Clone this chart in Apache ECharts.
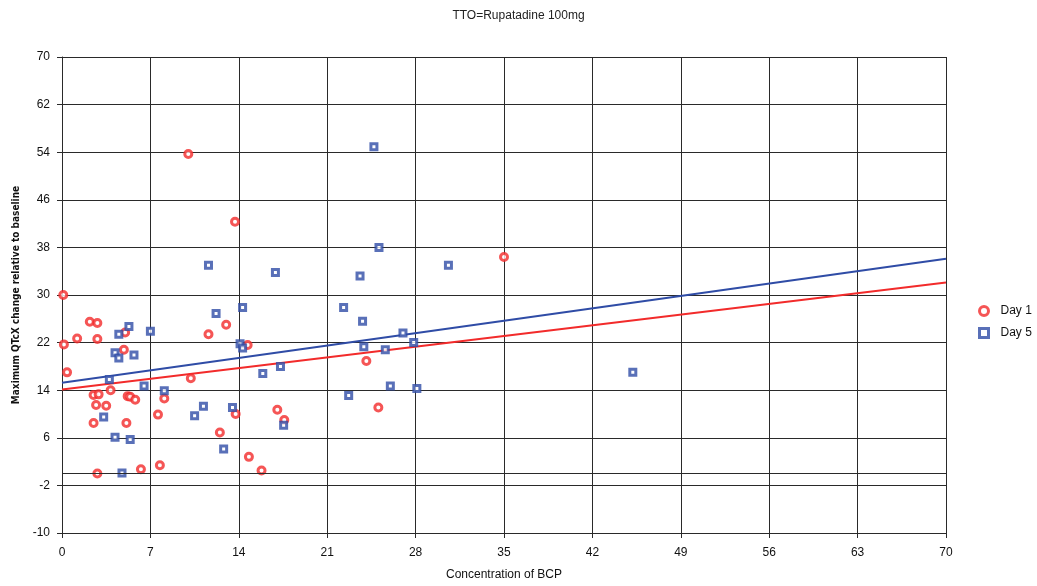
<!DOCTYPE html>
<html>
<head>
<meta charset="utf-8">
<title>TTO=Rupatadine 100mg</title>
<script src="https://cdn.jsdelivr.net/npm/echarts@6/dist/echarts.min.js"></script>
<style>
  html, body { margin: 0; padding: 0; background: #fff; }
  #chart { width: 1037px; height: 586px; }
</style>
</head>
<body>
<div id="chart"></div>
<script>
// values
const xTicks = [0, 7, 14, 21, 28, 35, 42, 49, 56, 63, 70];
const yTicks = [-10, -2, 6, 14, 22, 30, 38, 46, 54, 62, 70];

const day1 = [
  [0.1, 30], [0.15, 21.7], [0.4, 17], [1.2, 22.7], [2.2, 25.5], [2.8, 25.3],
  [2.8, 22.6], [5.0, 23.7], [4.9, 20.8], [3.85, 14], [2.5, 13.2], [2.9, 13.3],
  [2.7, 11.5], [3.5, 11.4], [2.5, 8.5], [5.2, 13], [5.4, 12.9], [5.8, 12.4],
  [5.1, 8.5], [2.8, 0], [6.25, 0.7], [7.75, 1.4], [8.1, 12.6], [7.6, 9.9],
  [10.2, 16], [11.6, 23.4], [13.0, 25], [12.5, 6.9], [13.75, 10], [14.7, 21.6],
  [14.8, 2.8], [10.0, 53.7], [13.7, 42.3], [17.05, 10.7], [17.6, 9], [15.8, 0.5],
  [24.1, 18.9], [25.05, 11.1], [35.0, 36.4]
];

const day5 = [
  [5.3, 24.7], [4.5, 23.4], [7.0, 23.9], [12.2, 26.9], [14.3, 27.9], [4.2, 20.3],
  [4.5, 19.4], [5.7, 19.9], [14.1, 21.8], [14.3, 21.1], [3.75, 15.8], [6.5, 14.7],
  [8.1, 13.9], [3.3, 9.5], [4.2, 6.1], [5.4, 5.7], [4.75, 0.1], [10.5, 9.7],
  [11.2, 11.3], [13.5, 11.1], [12.8, 4.1], [24.7, 54.9], [25.1, 38], [11.6, 35],
  [16.9, 33.8], [23.6, 33.2], [30.6, 35], [22.3, 27.9], [23.8, 25.6], [27.0, 23.6],
  [23.9, 21.3], [25.6, 20.8], [27.85, 22], [17.3, 18], [15.9, 16.8], [26.0, 14.7],
  [28.1, 14.3], [22.7, 13.1], [17.55, 8.1], [45.2, 17.0]
];

// fitted trend lines (end points)
const trendDay1 = [[0, 14.1], [70, 32.1]];
const trendDay5 = [[0, 15.25], [70, 36.1]];

const RED = '#f22b2b';
const BLUE = '#2f4ca6';
const GRID_LINE = { lineStyle: { color: '#2a2a2a', width: 1 } };
const LABEL = { color: '#111', fontFamily: 'Liberation Sans', fontSize: 12 };

const chart = echarts.init(document.getElementById('chart'));

chart.setOption({
  animation: false,
  title: {
    text: 'TTO=Rupatadine 100mg',
    left: 'center',
    top: 5,
    textStyle: { color: '#222', fontFamily: 'Liberation Sans', fontSize: 12, fontWeight: 'normal' },
  },
  grid: { left: 62, top: 57, right: 91, bottom: 52, containLabel: false },
  legend: {
    orient: 'vertical',
    left: 973,
    top: 300,
    itemWidth: 9,
    itemHeight: 9,
    itemGap: 10,
    itemStyle: { borderWidth: 3 },
    textStyle: { ...LABEL, padding: [0, 0, 0, 7] },
    data: ['Day 1', 'Day 5'],
  },
  xAxis: {
    type: 'value',
    min: 0,
    max: 70,
    interval: 7,
    name: 'Concentration of BCP',
    nameLocation: 'middle',
    nameGap: 36,
    nameTextStyle: { ...LABEL },
    axisLine: { show: true, onZero: false, lineStyle: { color: '#2a2a2a' } },
    axisTick: { show: true, length: 5, lineStyle: { color: '#2a2a2a' } },
    axisLabel: { ...LABEL, margin: 14 },
    splitLine: { show: true, ...GRID_LINE },
  },
  yAxis: {
    type: 'value',
    min: -10,
    max: 70,
    name: 'Maximum QTcX change relative to baseline',
    nameLocation: 'middle',
    nameGap: 40,
    nameTextStyle: { color: '#111', fontFamily: '"DejaVu Sans Condensed", "Liberation Sans"', fontSize: 10, fontWeight: 'bold' },
    axisLine: { show: true, onZero: false, lineStyle: { color: '#2a2a2a' } },
    axisTick: { show: true, length: 5, customValues: yTicks, lineStyle: { color: '#2a2a2a' } },
    axisLabel: { ...LABEL, margin: 12, customValues: yTicks },
    splitLine: { show: true, ...GRID_LINE },
  },
  series: [
    {
      name: 'Day 1',
      type: 'scatter',
      symbol: 'circle',
      symbolSize: 7,
      itemStyle: { color: '#fff', borderColor: RED, borderWidth: 3 },
      data: day1,
      z: 4,
      markLine: {
        silent: true,
        symbol: 'none',
        label: { show: false },
        lineStyle: { color: '#2a2a2a', width: 1, type: 'solid' },
        data: [{ yAxis: 0 }],
      },
    },
    {
      name: 'Day 5',
      type: 'scatter',
      symbol: 'rect',
      symbolSize: 6,
      itemStyle: { color: '#fff', borderColor: BLUE, borderWidth: 3 },
      data: day5,
      z: 4,
    },
    {
      name: 'Trend Day 1',
      type: 'line',
      data: trendDay1,
      symbol: 'none',
      lineStyle: { color: RED, width: 2 },
      z: 3,
      silent: true,
    },
    {
      name: 'Trend Day 5',
      type: 'line',
      data: trendDay5,
      symbol: 'none',
      lineStyle: { color: BLUE, width: 2 },
      z: 3,
      silent: true,
    },
  ],
});
</script>
</body>
</html>
